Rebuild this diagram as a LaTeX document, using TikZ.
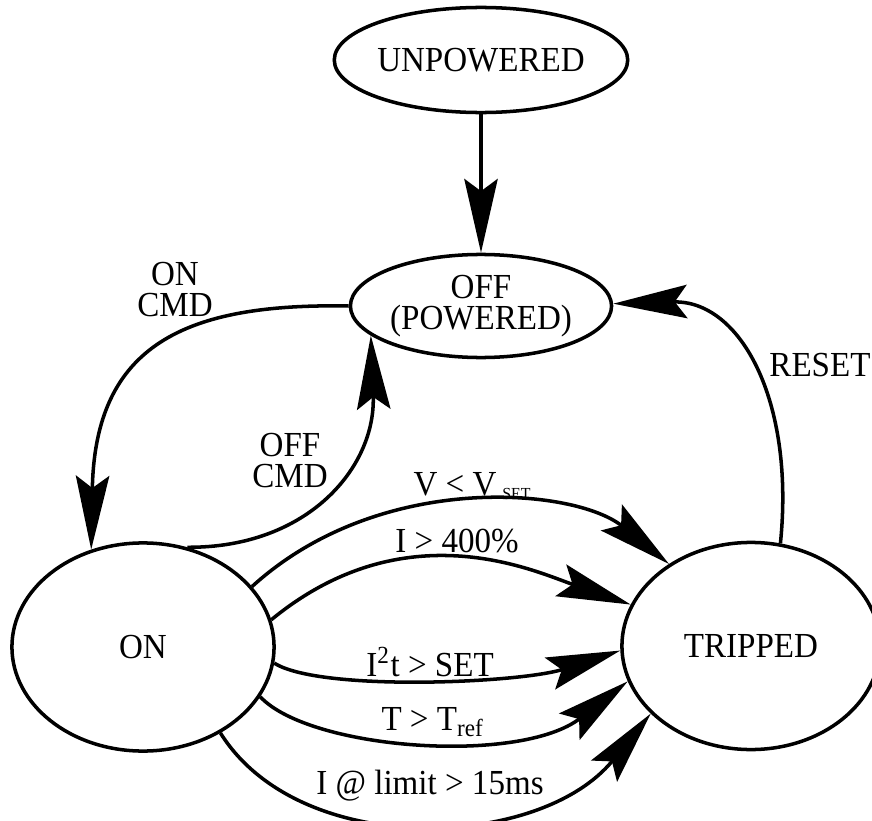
\documentclass[tikz,border=0pt]{standalone}
\usepackage{fontspec}
\setmainfont[FakeStretch=0.94]{Liberation Serif}
\usetikzlibrary{arrows.meta,shapes.geometric}
\tikzset{
  state/.style = {draw, ellipse, line width=1pt, inner sep=0pt, align=center,
                  font=\fontsize{10}{8.8}\selectfont},
  trans/.style = {-{Stealth[length=21pt, width=9.5pt, inset=3.5pt]}, line width=1pt},
  cond/.style  = {align=center, inner sep=0pt, font=\fontsize{10}{8.8}\selectfont},
}

\begin{document}
\begin{tikzpicture}[x=0.01cm, y=-0.01cm]
  \useasboundingbox (0,0) rectangle (872,821);
  % states
  \node[state, minimum width=2.6cm, minimum height=1.05cm] (unpow) at (481,60) {UNPOWERED};
  \node[state, minimum width=2.61cm, minimum height=1.03cm] (off) at (481,306) {OFF\\(POWERED)};
  \node[state, minimum width=2.62cm, minimum height=2.08cm] (on) at (143,647) {ON};
  \node[state, minimum width=2.58cm, minimum height=2.07cm] (trip) at (751,646) {TRIPPED};

  % transitions
  \draw[trans] (unpow) -- (off);
  \draw[trans] (off.180) .. controls (185,303) and (95,345) .. (on.118);
  \draw[trans] (on.66) .. controls (308,548) and (376,467) .. (off.195);
  \draw[trans] (trip.74) .. controls (795,400) and (740,300) .. (off.1);
  \draw[trans] (on.29) .. controls (380,470) and (575,488) .. (trip.135);
  \draw[trans] (on.12) .. controls (405,510) and (534,571) .. (trip.161);
  \draw[trans] (on.-7) .. controls (320,692) and (521,683) .. (trip.182);
  \draw[trans] (on.-23) .. controls (310,750) and (520,765) .. (trip.196);
  \draw[trans] (on.-48) .. controls (300,860) and (540,850) .. (trip.214);

  % conditions
  \node[cond] (oncmd) at (175,290) {ON\\CMD};
  \node[cond] (offcmd) at (290,461) {OFF\\CMD};
  \node[cond] (reset) at (820,365) {RESET};
  \node[cond] (vset) at (472,486) {V < V\,\raisebox{-0.3ex}{\fontsize{4.8}{5}\selectfont SET}};
  \node[cond] (ipeak) at (457,541) {I > 400\%};
  \node[cond] (i2t) at (430,662) {I\textsuperscript{2}t > SET};
  \node[cond] (tref) at (433,722) {T > T\textsubscript{ref}};
  \node[cond] (ilim) at (430,786) {I @ limit > 15ms};
\end{tikzpicture}
\end{document}
